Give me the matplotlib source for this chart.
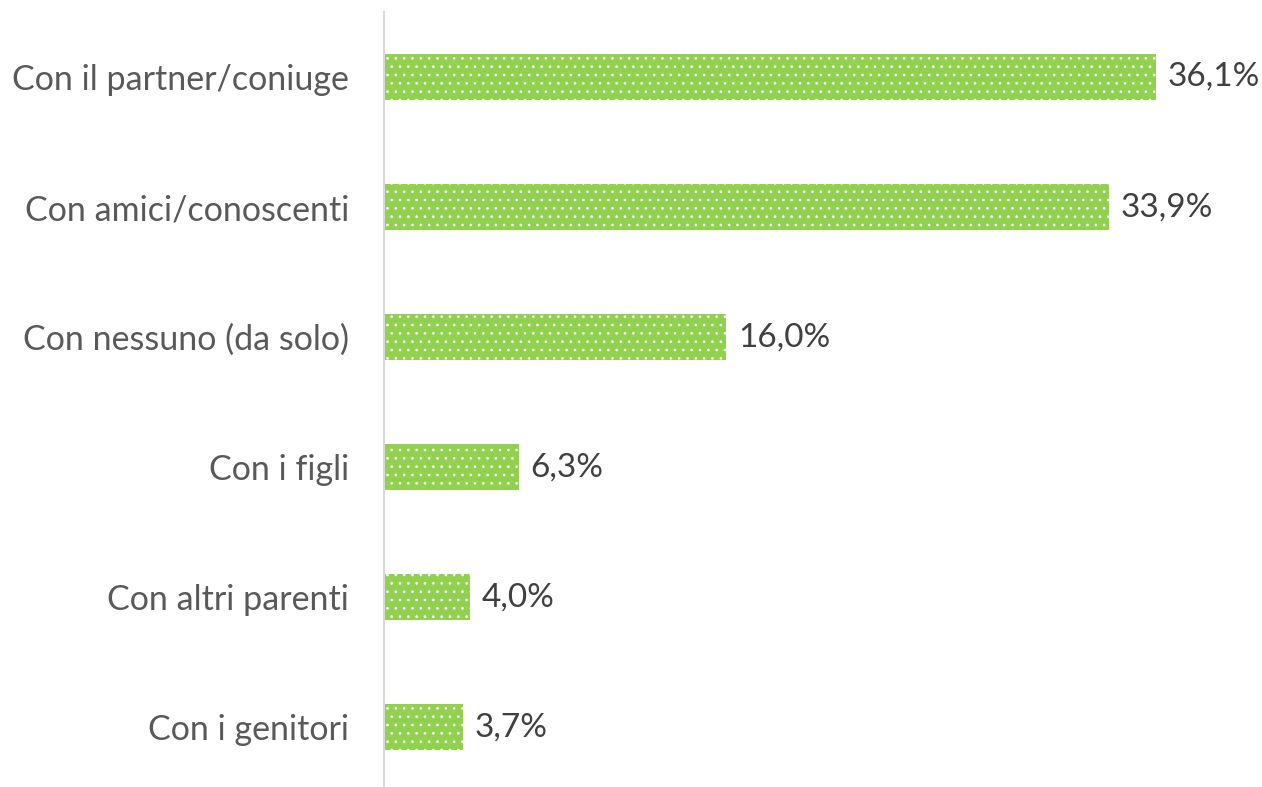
import matplotlib
matplotlib.use("Agg")
import matplotlib.pyplot as plt

categories = ["Con il partner/coniuge", "Con amici/conoscenti", "Con nessuno (da solo)",
              "Con i figli", "Con altri parenti", "Con i genitori"]
values = [36.1, 33.9, 16.0, 6.3, 4.0, 3.7]
value_labels = ["36,1%", "33,9%", "16,0%", "6,3%", "4,0%", "3,7%"]

plt.rcParams['font.family'] = ['Lato', 'DejaVu Sans']
plt.rcParams['hatch.color'] = 'white'
plt.rcParams['hatch.linewidth'] = 0.7

fig = plt.figure(figsize=(12.62, 7.87), dpi=100)
ax = fig.add_axes([384 / 1262, 0, 1 - 384 / 1262, 1 - 12 / 787])

pos = list(range(len(categories)))
ax.barh(pos, values, height=0.354, color='#92D050', edgecolor='white',
        linewidth=0, hatch='..')

for p, v, lab in zip(pos, values, value_labels):
    ax.text(v + 0.55, p, lab, va='center', ha='left', fontsize=24, color='#404040')

ax.set_ylim(5.46, -0.5)
ax.set_xlim(0, 41.06)
ax.set_yticks(pos)
ax.set_yticklabels(categories, fontsize=24.5, color='#595959')
ax.tick_params(axis='y', length=0, pad=25)
ax.set_xticks([])
for s in ['top', 'right', 'bottom']:
    ax.spines[s].set_visible(False)
ax.spines['left'].set_color('#D9D9D9')
ax.spines['left'].set_linewidth(1.5)

fig.savefig("out.png", dpi=100)
